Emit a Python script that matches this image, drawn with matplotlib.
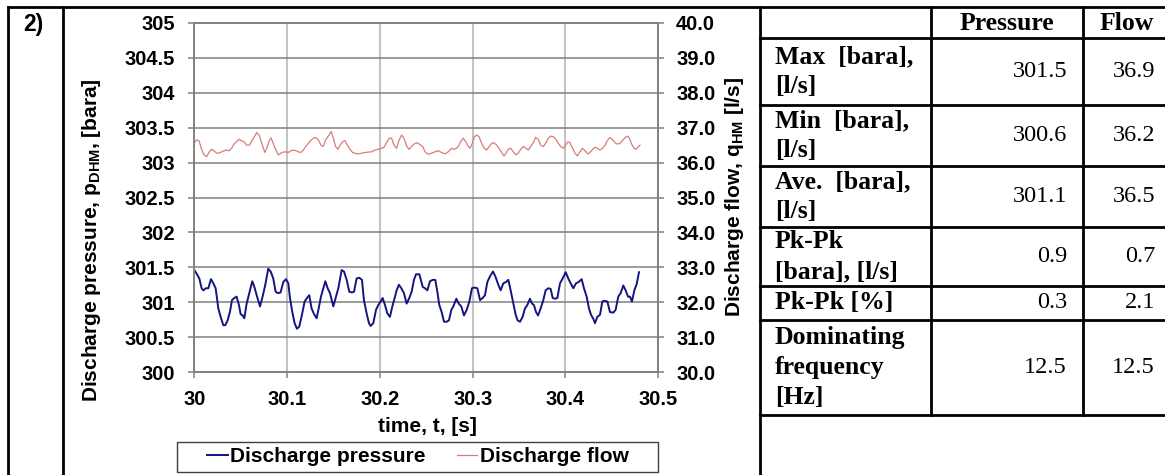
import matplotlib
matplotlib.use("Agg")
import matplotlib.pyplot as plt
import numpy as np
from matplotlib.ticker import FuncFormatter, MultipleLocator
from matplotlib.patches import Rectangle

plt.rcParams['font.family'] = 'Liberation Sans'
plt.rcParams['font.weight'] = 'bold'
plt.rcParams['axes.labelweight'] = 'bold'
plt.rcParams['mathtext.fontset'] = 'custom'
plt.rcParams['mathtext.rm'] = 'Liberation Sans:bold'
plt.rcParams['mathtext.bf'] = 'Liberation Sans:bold'

# discharge pressure samples: ms after t = 30 s, pressure in bara
p_ms = [0, 2.5, 5.4, 7.9, 9.7, 12.6, 15.1, 18.0, 20.5, 23.0,
        25.9, 28.4, 31.3, 33.4, 35.9, 38.4, 40.6, 43.1, 45.6, 48.1,
        49.9, 52.1, 53.9, 56.4, 59.3, 62.5, 64.7, 67.2, 70.8, 73.6,
        76.5, 79.7, 82.3, 85.1, 87.6, 90.2, 93.0, 95.9, 98.8, 101.3,
        103.1, 105.6, 108.1, 110.6, 113.1, 116.0, 118.9, 121.4, 123.9, 126.4,
        129.0, 131.8, 134.0, 136.5, 139.0, 141.2, 143.7, 146.2, 149.8, 152.3,
        155.2, 158.8, 161.3, 164.2, 167.0, 169.9, 172.1, 174.9, 177.8, 180.7,
        182.8, 185.7, 188.2, 190.0, 192.9, 195.8, 198.3, 200.8, 202.9, 205.5,
        208.0, 210.8, 213.4, 215.9, 218.0, 220.5, 223.1, 225.9, 228.8, 231.7,
        234.2, 236.7, 238.9, 242.5, 246.1, 248.6, 251.1, 254.0, 256.9, 259.7,
        261.9, 264.0, 266.5, 269.1, 271.9, 274.4, 277.0, 279.1, 282.4, 284.9,
        287.7, 290.6, 293.5, 296.4, 299.2, 301.7, 305.0, 307.9, 310.7, 313.2,
        315.8, 318.6, 321.9, 324.4, 327.6, 330.1, 333.0, 335.9, 338.4, 340.9,
        343.8, 346.3, 348.4, 351.0, 353.8, 356.3, 358.9, 361.7, 363.9, 366.0,
        368.2, 370.4, 373.2, 376.1, 378.6, 381.5, 384.0, 386.2, 388.7, 391.2,
        394.1, 396.9, 400.2, 403.0, 405.6, 408.4, 411.3, 414.2, 417.4, 419.9,
        422.8, 425.3, 427.5, 430.0, 431.8, 434.3, 437.2, 439.7, 441.8, 445.1,
        447.9, 451.5, 454.0, 456.9, 459.4, 462.3, 464.8, 467.3, 469.5, 471.6,
        474.2, 476.7, 479.2]
p_bara = [301.46, 301.41, 301.34, 301.20, 301.17, 301.20, 301.20, 301.33, 301.27, 301.20,
          300.91, 300.79, 300.67, 300.67, 300.74, 300.86, 301.03, 301.06, 301.08, 300.96,
          300.83, 300.81, 300.77, 300.98, 301.13, 301.30, 301.22, 301.10, 300.94, 301.08,
          301.25, 301.48, 301.44, 301.34, 301.15, 301.13, 301.14, 301.29, 301.33, 301.27,
          301.06, 300.86, 300.70, 300.62, 300.65, 300.82, 301.01, 301.06, 301.10, 300.91,
          300.83, 300.77, 300.91, 301.08, 301.20, 301.30, 301.20, 301.13, 300.94, 301.06,
          301.20, 301.46, 301.44, 301.32, 301.15, 301.14, 301.15, 301.34, 301.35, 301.32,
          301.03, 300.84, 300.70, 300.66, 300.70, 300.89, 300.96, 301.01, 301.06, 300.96,
          300.84, 300.79, 300.94, 301.06, 301.17, 301.25, 301.20, 301.13, 300.98, 301.06,
          301.15, 301.32, 301.40, 301.40, 301.22, 301.20, 301.17, 301.30, 301.32, 301.32,
          301.15, 300.96, 300.86, 300.72, 300.72, 300.74, 300.89, 300.94, 301.05, 300.98,
          300.94, 300.81, 300.89, 301.01, 301.20, 301.21, 301.20, 301.03, 301.06, 301.10,
          301.29, 301.37, 301.44, 301.37, 301.25, 301.17, 301.27, 301.29, 301.32, 301.17,
          300.98, 300.82, 300.74, 300.72, 300.79, 300.91, 300.96, 301.05, 300.98, 300.96,
          300.86, 300.81, 300.91, 301.03, 301.17, 301.20, 301.19, 301.06, 301.05, 301.06,
          301.27, 301.34, 301.43, 301.34, 301.27, 301.20, 301.27, 301.29, 301.33, 301.20,
          301.08, 300.91, 300.82, 300.76, 300.70, 300.79, 300.82, 301.01, 301.02, 301.01,
          300.86, 300.85, 300.89, 301.08, 301.13, 301.24, 301.17, 301.08, 301.08, 301.01,
          301.17, 301.26, 301.43]

# discharge flow samples: ms after t = 30 s, flow in l/s
q_ms = [0, 2.5, 5.0, 7.5, 10.4, 13.3, 16.2, 18.7, 21.2, 24.1,
        26.6, 29.5, 32.0, 34.8, 37.7, 40.2, 42.7, 45.6, 48.1, 51.0,
        53.5, 56.4, 59.3, 62.5, 64.7, 67.2, 69.7, 71.8, 74.4, 76.1,
        78.7, 80.8, 82.6, 85.1, 87.6, 90.5, 93.0, 95.9, 98.8, 101.3,
        104.2, 106.7, 109.6, 112.1, 114.9, 117.5, 120.0, 122.8, 125.4, 128.2,
        130.7, 133.6, 136.5, 139.0, 141.5, 144.4, 147.6, 149.8, 152.3, 154.8,
        157.0, 159.8, 162.4, 164.9, 167.7, 170.6, 173.1, 176.7, 180.3, 183.9,
        187.5, 191.1, 194.7, 198.3, 201.9, 204.4, 207.3, 210.1, 212.6, 215.2,
        218.0, 220.5, 223.4, 225.9, 228.8, 231.3, 234.2, 236.7, 239.6, 242.5,
        246.1, 248.6, 252.2, 255.8, 259.4, 263.0, 266.5, 270.1, 273.7, 277.3,
        280.9, 284.5, 287.0, 289.9, 292.4, 295.3, 297.1, 299.6, 301.7, 304.3,
        306.8, 309.7, 312.5, 315.0, 317.9, 320.4, 322.9, 325.8, 328.3, 331.2,
        333.7, 335.9, 338.4, 340.9, 343.8, 346.7, 349.2, 351.7, 354.6, 357.4,
        359.9, 362.5, 365.3, 367.8, 370.7, 373.2, 376.1, 379.0, 381.5, 384.4,
        386.9, 389.7, 392.3, 394.8, 397.7, 400.2, 402.7, 404.8, 407.7, 410.2,
        412.7, 415.6, 418.1, 421.0, 423.9, 426.4, 429.3, 431.8, 434.3, 437.2,
        440.0, 442.6, 445.1, 447.9, 450.8, 453.3, 455.8, 458.7, 461.2, 463.7,
        466.6, 468.8, 471.3, 473.8, 476.0, 478.5, 480.3]
q_ls = [36.57, 36.65, 36.63, 36.41, 36.22, 36.17, 36.31, 36.38, 36.34, 36.27,
        36.27, 36.31, 36.34, 36.36, 36.34, 36.41, 36.53, 36.60, 36.67, 36.62,
        36.60, 36.50, 36.50, 36.65, 36.74, 36.86, 36.79, 36.63, 36.41, 36.29,
        36.46, 36.63, 36.71, 36.55, 36.38, 36.22, 36.27, 36.30, 36.31, 36.29,
        36.34, 36.36, 36.34, 36.31, 36.29, 36.36, 36.46, 36.55, 36.63, 36.70,
        36.72, 36.65, 36.50, 36.46, 36.65, 36.76, 36.89, 36.70, 36.46, 36.38,
        36.50, 36.60, 36.63, 36.50, 36.38, 36.29, 36.27, 36.25, 36.27, 36.29,
        36.30, 36.31, 36.36, 36.38, 36.41, 36.44, 36.57, 36.70, 36.70, 36.50,
        36.41, 36.63, 36.79, 36.70, 36.48, 36.38, 36.46, 36.53, 36.57, 36.53,
        36.46, 36.31, 36.24, 36.27, 36.31, 36.34, 36.29, 36.25, 36.31, 36.41,
        36.38, 36.46, 36.60, 36.70, 36.60, 36.46, 36.41, 36.55, 36.74, 36.79,
        36.74, 36.55, 36.41, 36.36, 36.46, 36.55, 36.57, 36.50, 36.41, 36.29,
        36.19, 36.27, 36.38, 36.41, 36.31, 36.22, 36.27, 36.38, 36.46, 36.41,
        36.36, 36.46, 36.57, 36.72, 36.67, 36.50, 36.46, 36.57, 36.70, 36.76,
        36.74, 36.67, 36.55, 36.46, 36.41, 36.50, 36.60, 36.57, 36.41, 36.27,
        36.19, 36.31, 36.41, 36.34, 36.25, 36.29, 36.38, 36.44, 36.41, 36.36,
        36.41, 36.50, 36.63, 36.72, 36.65, 36.57, 36.53, 36.55, 36.63, 36.70,
        36.76, 36.70, 36.53, 36.41, 36.38, 36.46, 36.50]

# summary table
row_labels = ['Max  [bara],\n[l/s]', 'Min  [bara],\n[l/s]', 'Ave.  [bara],\n[l/s]',
              'Pk-Pk\n[bara], [l/s]', 'Pk-Pk [%]', 'Dominating\nfrequency\n[Hz]']
col_labels = ['Pressure', 'Flow']
pressure_stats = ['301.5', '300.6', '301.1', '0.9', '0.3', '12.5']
flow_stats = ['36.9', '36.2', '36.5', '0.7', '2.1', '12.5']

W, H = 1165, 475
fig = plt.figure(figsize=(W / 100, H / 100), dpi=100)

# frame + table drawn in pixel coordinates
frame = fig.add_axes([0, 0, 1, 1])
frame.set_xlim(0, W)
frame.set_ylim(H, 0)
frame.axis('off')
lw = 2.0
frame.plot([8, W], [7, 7], color='black', lw=lw, solid_capstyle='projecting')
for x in (8, 63, 760):
    frame.plot([x, x], [7, H], color='black', lw=lw, solid_capstyle='projecting')
for x in (931, 1083):
    frame.plot([x, x], [7, 415], color='black', lw=lw)
row_edges = [7, 38, 105, 166, 227, 286, 320, 415]
for y in row_edges[1:]:
    frame.plot([760, W], [y, y], color='black', lw=lw)
frame.text(33, 25, '2)', fontsize=16.5, ha='center', va='center')

serif = 'Liberation Serif'
frame.text(1007, 23, col_labels[0], family=serif, fontsize=18.5, ha='center', va='center')
frame.text(1127, 23, col_labels[1], family=serif, fontsize=18.5, ha='center', va='center')
for i, lab in enumerate(row_labels):
    yc = (row_edges[i + 1] + row_edges[i + 2]) / 2
    frame.text(775, yc, lab, family=serif, fontsize=18.5, ha='left', va='center',
               linespacing=1.38)
    frame.text(1067, yc, pressure_stats[i], family=serif, fontweight='normal',
               fontsize=17.5, ha='right', va='center')
    frame.text(1155, yc, flow_stats[i], family=serif, fontweight='normal',
               fontsize=17.5, ha='right', va='center')

# chart
ax = fig.add_axes([194.3 / W, (H - 372) / H, 464 / W, 349 / H])
ax2 = ax.twinx()

t_p = 30 + np.array(p_ms) / 1000
t_q = 30 + np.array(q_ms) / 1000
l1, = ax.plot(t_p, p_bara, color='#141482', lw=1.4, label='Discharge pressure')
l2, = ax2.plot(t_q, q_ls, color='#d77c7c', lw=0.9, label='Discharge flow')

ax.set_xlim(30, 30.5)
ax.set_ylim(300, 305)
ax2.set_ylim(30, 40)
ax.xaxis.set_major_locator(MultipleLocator(0.1))
ax.yaxis.set_major_locator(MultipleLocator(0.5))
ax2.yaxis.set_major_locator(MultipleLocator(1.0))
ax.xaxis.set_major_formatter(FuncFormatter(lambda v, _: '%g' % round(v, 2)))
ax.yaxis.set_major_formatter(FuncFormatter(lambda v, _: '%g' % v))
ax2.yaxis.set_major_formatter(FuncFormatter(lambda v, _: '%.1f' % v))

ax.grid(axis='y', color='#808080', lw=1.1)
ax.grid(axis='x', color='#c4c4c4', lw=1.5)
ax.set_axisbelow(True)
for a in (ax, ax2):
    for s in a.spines.values():
        s.set_color('#808080')
        s.set_linewidth(1.1)
ax.tick_params(axis='x', direction='out', length=4.3, width=1.1, color='#808080',
               labelsize=14.5, pad=8.6)
ax.tick_params(axis='y', direction='out', length=4.3, width=1.1, color='#808080',
               labelsize=14.5, pad=9.4)
ax2.tick_params(axis='y', direction='out', length=4.3, width=1.1, color='#808080',
                labelsize=14.5, pad=8.6)

ax.set_ylabel(r'Discharge pressure, $\mathbf{p_{DHM}}$, [bara]', fontsize=15,
              fontweight='bold', va='center')
ax.yaxis.set_label_coords((92 - 194.3) / 464, (372 - 240) / 349)
ax2.set_ylabel(r'Discharge flow, $\mathbf{q_{HM}}$ [l/s]', fontsize=15,
               fontweight='bold', va='center', rotation=90)
ax2.yaxis.set_label_coords((735 - 194.3) / 464, (372 - 197) / 349)
ax.set_xlabel('time, t, [s]', fontsize=15, fontweight='bold', va='center')
ax.xaxis.set_label_coords((427 - 194.3) / 464, -(427 - 372) / 349)

fig.add_artist(Rectangle((177 / W, 1 - 472 / H), 481 / W, 30 / H,
                         transform=fig.transFigure, fill=False,
                         edgecolor='#404040', lw=1))
fig.legend(handles=[l1, l2], loc='center left', bbox_to_anchor=(207 / W, 1 - 457 / H),
           frameon=False, ncol=2, fontsize=15, handlelength=1.0, handletextpad=0.1,
           columnspacing=1.5, borderpad=0, borderaxespad=0)

fig.savefig('out.png', dpi=100)
